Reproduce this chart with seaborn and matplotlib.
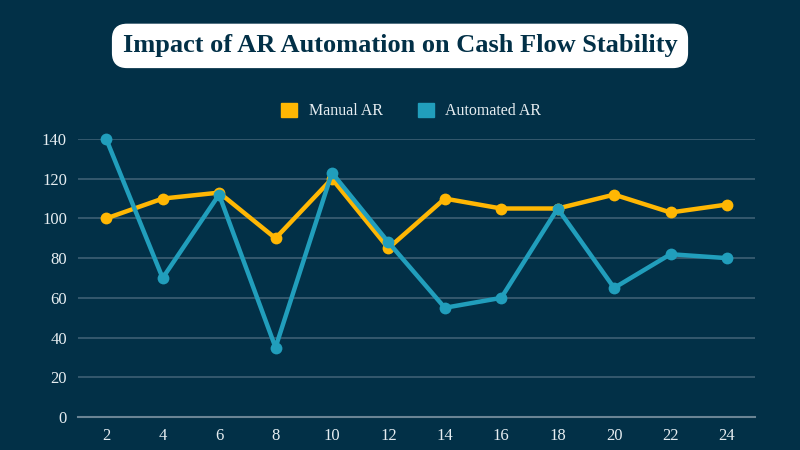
import matplotlib
matplotlib.use("Agg")
import matplotlib.pyplot as plt
import seaborn as sns
import pandas as pd
from matplotlib.patches import Patch

# Data
months = [2, 4, 6, 8, 10, 12, 14, 16, 18, 20, 22, 24]
manual_ar = [100, 110, 113, 90, 120, 85, 110, 105, 105, 112, 103, 107]
automated_ar = [140, 70, 112, 35, 123, 88, 55, 60, 105, 65, 82, 80]
series_names = ["Manual AR", "Automated AR"]
y_ticks = [0, 20, 40, 60, 80, 100, 120, 140]

bg = "#023047"
orange = "#ffb703"
teal = "#219ebc"
text_col = "#e6edf1"

df = pd.DataFrame({"month": months, "Manual AR": manual_ar, "Automated AR": automated_ar})
long_df = df.melt(id_vars="month", var_name="series", value_name="value")

sns.set_theme(style="dark")
plt.rcParams["font.family"] = ["Liberation Serif", "DejaVu Serif"]

fig = plt.figure(figsize=(8, 4.5), dpi=100, facecolor=bg)
ax = fig.add_axes([0.0975, 0.0733, 0.8465, 0.6178])
ax.set_facecolor(bg)

sns.lineplot(data=long_df, x="month", y="value", hue="series",
             palette={"Manual AR": orange, "Automated AR": teal},
             hue_order=series_names, marker="o", markersize=8.5,
             markeredgewidth=0, linewidth=3.2, ax=ax, legend=False,
             clip_on=False)

ax.set_xlim(1, 25)
ax.set_ylim(0, 140)
ax.set_xticks(months)
ax.set_yticks(y_ticks)
ax.set_xlabel("")
ax.set_ylabel("")
ax.tick_params(axis="both", colors=text_col, labelsize=12, length=0, pad=8)
for lbl in ax.get_xticklabels() + ax.get_yticklabels():
    lbl.set_color(text_col)

ax.grid(axis="y", color="#3d5f74", linewidth=1.2)
ax.grid(axis="x", visible=False)
ax.set_axisbelow(True)
for s in ["top", "right", "left"]:
    ax.spines[s].set_visible(False)
ax.spines["bottom"].set_color("#6a8494")
ax.spines["bottom"].set_linewidth(1.5)

handles = [Patch(facecolor=orange, edgecolor=orange, label=series_names[0]),
           Patch(facecolor=teal, edgecolor=teal, label=series_names[1])]
leg = fig.legend(handles=handles, loc="center", bbox_to_anchor=(0.514, 0.753),
                 ncol=2, frameon=False, fontsize=11.5, handlelength=1.0,
                 handleheight=1.0, columnspacing=2.2, handletextpad=0.7)
for t in leg.get_texts():
    t.set_color(text_col)

fig.text(0.5, 0.898, "Impact of AR Automation on Cash Flow Stability",
         ha="center", va="center", fontsize=19, fontweight="bold", color=bg,
         bbox=dict(boxstyle="round,pad=0.38,rounding_size=0.55",
                   facecolor="white", edgecolor="white"))

fig.savefig("out.png", dpi=100, facecolor=bg)
